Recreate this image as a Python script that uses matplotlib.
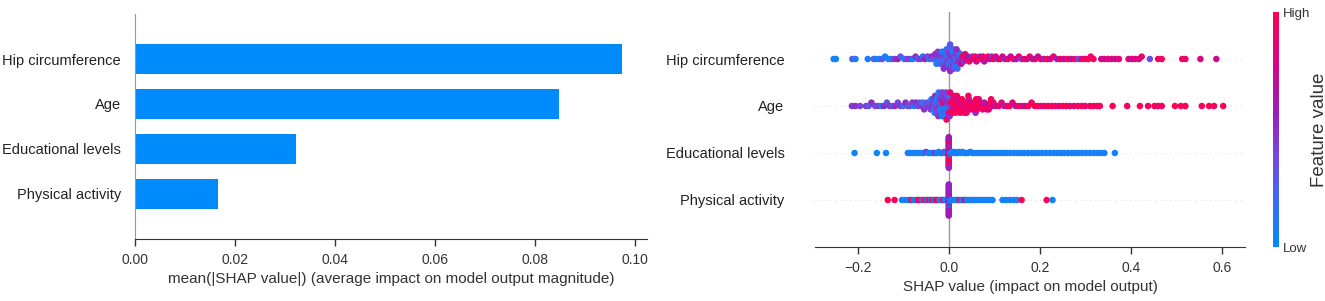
import numpy as np
import matplotlib
matplotlib.use("Agg")
import matplotlib.pyplot as plt
from matplotlib.colors import LinearSegmentedColormap

plt.rcParams["font.family"] = ["Liberation Sans", "DejaVu Sans"]

# ------------------------------------------------------------
# data
# ------------------------------------------------------------
features = ["Hip circumference", "Age", "Educational levels", "Physical activity"]
mean_abs_shap = [0.0974, 0.0848, 0.0321, 0.0166]

# (shap value, feature value 0..1)
hip_points = [
    (-0.253, 0.05), (-0.248, 0.05), (-0.212, 0.3), (-0.205, 0.1), (-0.178, 0.1),
    (-0.165, 0.3), (-0.160, 0.1), (-0.152, 0.1), (-0.146, 0.35), (-0.140, 0.05),
    (-0.133, 0.1), (-0.127, 0.1), (-0.120, 0.45), (-0.112, 0.6), (-0.106, 0.3),
    (-0.098, 0.1), (-0.092, 0.4), (-0.085, 0.45), (-0.079, 0.1), (-0.073, 0.5),
    (-0.068, 0.3), (-0.062, 0.45), (-0.057, 0.2), (-0.052, 0.6), (-0.047, 0.4),
    (-0.043, 0.1), (-0.039, 0.5), (-0.035, 0.3), (-0.031, 0.45), (-0.028, 0.1),
    (-0.025, 0.4), (-0.022, 0.2), (-0.030, 0.5), (-0.027, 0.1), (-0.024, 0.45),
    (-0.019, 0.1), (-0.017, 0.45), (-0.016, 0.2), (-0.014, 0.5), (-0.013, 0.1),
    (-0.012, 0.4), (-0.010, 0.15), (-0.009, 0.45), (-0.008, 0.3), (-0.007, 0.1),
    (-0.006, 0.5), (-0.005, 0.2), (-0.004, 0.4), (-0.003, 0.1), (-0.002, 0.45),
    (-0.001, 0.3), (0.000, 0.2), (0.000, 0.5), (0.001, 0.1), (0.001, 0.4),
    (0.002, 0.45), (0.002, 0.15), (0.003, 0.5), (0.003, 0.3), (0.004, 0.1),
    (0.004, 0.45), (0.005, 0.2), (0.006, 0.5), (0.007, 0.35), (0.008, 0.1),
    (0.009, 0.45), (0.010, 0.2), (0.012, 0.5), (0.013, 0.3), (0.015, 0.1),
    (0.016, 0.45), (0.018, 0.6), (0.020, 0.3), (0.022, 0.5), (0.024, 0.1),
    (-0.018, 0.3), (-0.011, 0.5), (-0.015, 0.1), (0.011, 0.4), (0.014, 0.1),
    (0.017, 0.5), (0.019, 0.2), (0.021, 0.45), (0.026, 0.1), (0.029, 0.5),
    (0.027, 0.7), (0.030, 0.9), (0.033, 0.5), (0.036, 0.95), (0.039, 0.8),
    (0.042, 0.6), (0.045, 0.95), (0.048, 0.85), (0.052, 0.5), (0.055, 0.9),
    (0.058, 1.0), (0.061, 0.75), (0.064, 0.9), (0.068, 0.55), (0.071, 0.95),
    (0.075, 0.85), (0.078, 0.6), (0.082, 0.9), (0.086, 1.0), (0.090, 0.7),
    (0.094, 0.5), (0.098, 0.9), (0.103, 0.85), (0.108, 0.6), (0.113, 0.95),
    (0.118, 0.8), (0.124, 0.55), (0.130, 0.9), (0.136, 0.75), (0.142, 0.95),
    (0.148, 0.6), (0.154, 0.85), (0.160, 0.5), (0.166, 0.9), (0.172, 0.8),
    (0.178, 0.95), (0.184, 0.6), (0.190, 0.85), (0.196, 0.7), (0.202, 0.9),
    (0.209, 0.55), (0.216, 0.95), (0.223, 0.8), (0.230, 0.85), (0.238, 0.6),
    (0.245, 0.9), (0.253, 0.75), (0.261, 0.95), (0.269, 0.7), (0.277, 0.9),
    (0.285, 0.35), (0.292, 0.85), (0.300, 0.95), (0.307, 1.0), (0.312, 0.9),
    (0.318, 0.95), (0.335, 0.8), (0.342, 0.75), (0.350, 0.85), (0.358, 0.8),
    (0.366, 0.75), (0.374, 0.85), (0.395, 0.8), (0.403, 0.75), (0.410, 0.85),
    (0.418, 0.8), (0.424, 0.9), (0.442, 0.35), (0.460, 0.9), (0.468, 0.95),
    (0.513, 0.95), (0.520, 0.9), (0.553, 0.8), (0.588, 0.75),
]

age_points = [
    (-0.213, 0.45), (-0.205, 0.5), (-0.195, 0.4), (-0.182, 0.45), (-0.176, 0.3),
    (-0.170, 0.5), (-0.162, 0.4), (-0.155, 0.45), (-0.148, 0.1), (-0.142, 0.5),
    (-0.136, 0.35), (-0.130, 0.45), (-0.124, 0.3), (-0.118, 0.5), (-0.112, 0.4),
    (-0.106, 0.45), (-0.100, 0.2), (-0.095, 0.5), (-0.090, 0.4), (-0.085, 0.3),
    (-0.080, 0.45), (-0.076, 0.1), (-0.072, 0.5), (-0.068, 0.4), (-0.064, 0.35),
    (-0.060, 0.45), (-0.057, 0.2), (-0.054, 0.5), (-0.051, 0.4), (-0.048, 0.3),
    (-0.045, 0.45),
    (-0.042, 0.3), (-0.040, 0.45), (-0.038, 0.1), (-0.036, 0.5), (-0.035, 0.4),
    (-0.033, 0.2), (-0.032, 0.45), (-0.031, 0.1), (-0.030, 0.5), (-0.029, 0.35),
    (-0.028, 0.15), (-0.027, 0.45), (-0.026, 0.1), (-0.025, 0.4), (-0.024, 0.2),
    (-0.023, 0.5), (-0.022, 0.1), (-0.021, 0.45), (-0.020, 0.3), (-0.019, 0.05),
    (-0.018, 0.5), (-0.017, 0.2), (-0.016, 0.4), (-0.015, 0.1), (-0.014, 0.45),
    (-0.013, 0.3), (-0.012, 0.9), (-0.011, 0.1), (-0.010, 0.5), (-0.009, 0.2),
    (-0.008, 0.45), (-0.007, 0.1), (-0.006, 0.4), (-0.005, 0.95), (-0.004, 0.3),
    (-0.003, 0.5), (-0.002, 0.1), (-0.001, 0.45), (0.000, 0.85), (0.001, 0.2),
    (0.002, 0.5), (0.003, 0.9), (0.004, 0.4), (0.005, 0.95),
    (0.007, 0.9), (0.010, 0.95), (0.012, 0.8), (0.014, 1.0), (0.017, 0.9),
    (0.019, 0.6), (0.021, 0.95), (0.024, 0.85), (0.026, 1.0), (0.028, 0.9),
    (0.031, 0.7), (0.033, 0.95), (0.036, 0.85), (0.038, 1.0), (0.041, 0.9),
    (0.044, 0.6), (0.047, 0.95), (0.050, 0.85), (0.053, 1.0), (0.056, 0.9),
    (0.008, 1.0), (0.011, 0.85), (0.015, 0.95), (0.018, 1.0), (0.022, 0.8),
    (0.025, 0.95), (0.029, 1.0), (0.034, 0.9), (0.039, 0.95), (0.043, 1.0),
    (0.048, 0.9), (0.054, 0.95), (0.060, 1.0), (0.064, 0.9), (0.068, 0.95),
    (0.072, 1.0), (0.080, 0.9), (0.086, 0.95), (0.091, 1.0), (0.096, 0.9),
    (0.059, 0.5), (0.062, 0.95), (0.066, 0.85), (0.070, 1.0), (0.074, 0.9),
    (0.078, 0.65), (0.083, 0.95), (0.088, 0.85), (0.093, 1.0), (0.098, 0.9),
    (0.104, 0.6), (0.110, 0.95), (0.116, 0.85), (0.122, 0.55), (0.128, 0.9),
    (0.134, 1.0), (0.140, 0.85), (0.147, 0.6), (0.154, 0.95), (0.161, 0.85),
    (0.168, 0.7), (0.175, 1.0), (0.182, 0.9), (0.189, 0.95), (0.196, 1.0),
    (0.203, 0.9), (0.210, 0.85), (0.218, 0.95), (0.226, 1.0), (0.234, 0.9),
    (0.242, 0.85), (0.250, 0.95), (0.258, 1.0), (0.266, 0.9), (0.275, 0.85),
    (0.284, 0.95), (0.292, 1.0), (0.300, 0.9), (0.310, 0.95), (0.318, 1.0),
    (0.326, 0.9), (0.332, 0.95), (0.360, 1.0), (0.392, 0.95), (0.420, 1.0),
    (0.438, 0.95), (0.452, 1.0), (0.460, 0.9), (0.468, 0.95), (0.497, 1.0),
    (0.510, 0.95), (0.520, 1.0), (0.556, 0.95), (0.572, 1.0), (0.583, 0.95),
    (0.603, 1.0),
]

edu_points = [
    (-0.207, 0.05), (-0.158, 0.05), (-0.138, 0.05), (-0.090, 0.1), (-0.085, 0.05),
    (-0.078, 0.1), (-0.072, 0.05), (-0.066, 0.1), (-0.060, 0.05), (-0.055, 0.1),
    (-0.050, 0.45), (-0.045, 0.05), (-0.040, 0.1), (-0.035, 0.05), (-0.030, 0.5),
    (-0.026, 0.1), (-0.022, 0.05), (-0.018, 0.1), (-0.014, 0.05), (-0.010, 0.4),
    (-0.007, 0.1),
    (0.000, 1.0), (0.000, 0.55), (0.000, 1.0), (0.000, 0.6), (0.000, 0.95),
    (0.000, 0.55), (0.000, 1.0), (0.000, 0.5), (0.000, 0.95), (0.000, 0.6),
    (0.000, 1.0), (0.000, 0.55), (0.000, 0.1), (0.000, 1.0), (0.000, 1.0),
    (0.000, 0.55), (0.000, 0.95), (0.000, 0.5), (0.000, 1.0), (0.000, 0.6),
    (0.000, 1.0), (0.000, 1.0), (0.000, 0.6), (0.000, 0.95), (0.000, 0.95),
    (0.000, 0.6), (0.000, 1.0), (0.000, 0.6), (0.000, 0.55), (0.000, 0.6),
    (0.004, 0.1), (0.007, 0.05), (0.010, 0.1), (0.013, 0.05), (0.016, 0.1),
    (0.019, 0.05), (0.022, 0.1), (0.026, 0.05), (0.030, 0.1), (0.034, 0.05),
    (0.038, 0.1), (0.042, 0.05), (0.047, 0.1), (0.052, 0.05), (0.057, 0.1),
    (0.062, 0.05), (0.068, 0.1), (0.074, 0.05), (0.080, 0.1), (0.086, 0.05),
    (0.092, 0.1), (0.098, 0.05), (0.105, 0.1), (0.112, 0.05), (0.119, 0.1),
    (0.126, 0.05), (0.134, 0.1), (0.142, 0.05), (0.150, 0.1), (0.158, 0.05),
    (0.166, 0.1), (0.174, 0.05), (0.182, 0.1), (0.190, 0.05), (0.198, 0.1),
    (0.206, 0.05), (0.214, 0.1), (0.222, 0.05), (0.230, 0.1), (0.238, 0.05),
    (0.246, 0.1), (0.254, 0.05), (0.262, 0.1), (0.270, 0.05), (0.278, 0.1),
    (0.286, 0.05), (0.294, 0.1), (0.302, 0.05), (0.310, 0.1), (0.318, 0.05),
    (0.326, 0.1), (0.334, 0.05), (0.342, 0.1), (0.365, 0.05),
]

phys_points = [
    (-0.134, 1.0), (-0.119, 0.95), (-0.103, 0.05), (-0.095, 0.1), (-0.088, 0.05),
    (-0.082, 1.0), (-0.077, 0.1), (-0.072, 0.05), (-0.067, 1.0), (-0.062, 0.95),
    (-0.058, 0.1), (-0.053, 1.0), (-0.048, 0.05), (-0.044, 0.95), (-0.040, 0.1),
    (-0.036, 1.0), (-0.032, 0.05), (-0.028, 0.95), (-0.024, 1.0), (-0.020, 0.1),
    (-0.016, 0.05), (-0.012, 1.0), (-0.008, 0.1), (-0.005, 0.05),
    (0.000, 0.55), (0.000, 0.6), (0.000, 0.55), (0.000, 0.05), (0.000, 0.6),
    (0.000, 0.55), (0.000, 0.6), (0.000, 0.55), (0.000, 0.1), (0.000, 0.6),
    (0.000, 0.55), (0.000, 0.6), (0.000, 0.55), (0.000, 0.6), (0.000, 0.05),
    (0.000, 0.55), (0.000, 0.6), (0.000, 0.55), (0.000, 0.6), (0.000, 0.55),
    (0.000, 0.6), (0.000, 0.55), (0.000, 0.6), (0.000, 0.55), (0.000, 0.6),
    (0.004, 0.05), (0.008, 0.1), (0.012, 0.05), (0.016, 0.1), (0.020, 0.05),
    (0.024, 1.0), (0.028, 0.1), (0.032, 0.05), (0.036, 0.95), (0.040, 0.05),
    (0.045, 0.1), (0.050, 0.05), (0.055, 0.1), (0.060, 0.05), (0.066, 0.1),
    (0.072, 0.05), (0.078, 0.1), (0.084, 0.05), (0.090, 0.1), (0.096, 0.05),
    (0.118, 0.1), (0.126, 0.05), (0.134, 0.1), (0.142, 0.05), (0.150, 0.1),
    (0.160, 1.0), (0.215, 1.0), (0.228, 0.05),
]

swarm_rows = [hip_points, age_points, edu_points, phys_points]

bar_ticks = [0.00, 0.02, 0.04, 0.06, 0.08, 0.10]
bar_ticklabels = ["0.00", "0.02", "0.04", "0.06", "0.08", "0.10"]
swarm_ticks = [-0.2, 0.0, 0.2, 0.4, 0.6]
swarm_ticklabels = ["\u22120.2", "0.0", "0.2", "0.4", "0.6"]

# ------------------------------------------------------------
# style
# ------------------------------------------------------------
BLUE = "#008bfb"
TXT = "#333333"
cmap = LinearSegmentedColormap.from_list(
    "shap_red_blue",
    [(0.0, "#008bfb"), (0.2, "#3c6cf0"), (0.4, "#7a45dc"),
     (0.58, "#9c1cb8"), (0.78, "#d4068a"), (1.0, "#ff0052")],
)


def swarm_offsets(vals, nbins=100, row_height=0.4):
    vals = np.asarray(vals, dtype=float)
    quant = np.round(nbins * (vals - vals.min()) / (vals.max() - vals.min() + 1e-8))
    order = np.argsort(quant, kind="stable")
    ys = np.zeros(len(vals))
    layer = 0
    last_bin = -1
    for i in order:
        if quant[i] != last_bin:
            layer = 0
        ys[i] = np.ceil(layer / 2) * ((layer % 2) * 2 - 1)
        layer += 1
        last_bin = quant[i]
    ys *= 0.9 * (row_height / np.max(ys + 1))
    return ys


fig = plt.figure(figsize=(13.25, 3.01), dpi=100)

n = len(features)
ypos = np.arange(n)[::-1]

# ------------------------------------------------------------
# left: bar plot
# ------------------------------------------------------------
ax1 = fig.add_axes([135 / 1325, 62 / 301, 512 / 1325, 225 / 301])
ax1.barh(ypos, mean_abs_shap, height=0.67, color=BLUE, align="center")
ax1.set_xlim(0, 0.1024)
ax1.set_ylim(-1, n)
ax1.set_yticks(ypos)
ax1.set_yticklabels(features, fontsize=10.5, color="#222222")
ax1.tick_params(axis="y", length=0, pad=10)
ax1.set_xticks(bar_ticks)
ax1.set_xticklabels(bar_ticklabels, fontsize=10, color=TXT)
ax1.tick_params(axis="x", length=5, width=1, color=TXT, pad=5)
for s in ["top", "right"]:
    ax1.spines[s].set_visible(False)
ax1.spines["left"].set_color("#999999")
ax1.spines["bottom"].set_color(TXT)
ax1.set_xlabel("mean(|SHAP value|) (average impact on model output magnitude)",
               fontsize=11, color=TXT, labelpad=4)

# ------------------------------------------------------------
# right: beeswarm
# ------------------------------------------------------------
ax2 = fig.add_axes([815 / 1325, 54 / 301, 430 / 1325, 235 / 301])
ax2.axvline(0, color="#999999", lw=1, zorder=-1)
for y, pts in zip(ypos, swarm_rows):
    sv = np.array([p[0] for p in pts])
    fv = np.array([p[1] for p in pts])
    ax2.axhline(y, color="#cccccc", lw=0.6, dashes=(1, 5), zorder=-1)
    ax2.scatter(sv, y + swarm_offsets(sv), c=fv, cmap=cmap, vmin=0, vmax=1,
                s=22, linewidth=0, zorder=3)
ax2.set_xlim(-0.294, 0.651)
ax2.set_ylim(-1, n)
ax2.set_yticks(ypos)
ax2.set_yticklabels(features, fontsize=10.5, color="#222222")
ax2.tick_params(axis="y", length=0, pad=22)
ax2.set_xticks(swarm_ticks)
ax2.set_xticklabels(swarm_ticklabels, fontsize=10, color=TXT)
ax2.tick_params(axis="x", length=5, width=1, color=TXT, pad=5)
for s in ["top", "right", "left"]:
    ax2.spines[s].set_visible(False)
ax2.spines["bottom"].set_color(TXT)
ax2.set_xlabel("SHAP value (impact on model output)", fontsize=11, color=TXT, labelpad=4)

# colorbar
cax = fig.add_axes([1273 / 1325, 54 / 301, 6 / 1325, 235 / 301])
sm = plt.cm.ScalarMappable(cmap=cmap, norm=plt.Normalize(0, 1))
cb = fig.colorbar(sm, cax=cax, ticks=[0, 1])
cb.set_ticklabels(["Low", "High"])
cb.outline.set_visible(False)
cax.tick_params(length=0, labelsize=9.5, labelcolor=TXT, pad=3)
cb.set_label("Feature value", fontsize=13.5, color=TXT, labelpad=0)

fig.savefig("out.png", dpi=100)
